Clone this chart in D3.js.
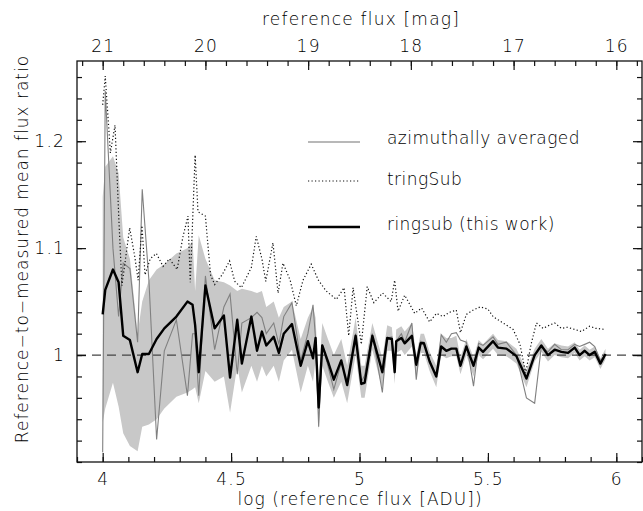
<!DOCTYPE html>
<html>
<head>
<meta charset="utf-8">
<script src="https://cdn.jsdelivr.net/npm/d3@7"></script>
<style>
  html, body { margin: 0; padding: 0; background: #fff; }
  svg { display: block; }
  text { font-family: "DejaVu Sans", sans-serif; font-weight: 200; font-size: 17px; fill: #000; letter-spacing: 1.2px; }
</style>
</head>
<body>
<svg id="chart" width="643" height="511"></svg>
<script>
// ---------------- data ----------------
const logFlux = [
  4.000, 4.010, 4.040, 4.062, 4.080, 4.106, 4.136, 4.154, 4.180, 4.210,
  4.240, 4.287, 4.330, 4.350, 4.360, 4.374, 4.400, 4.436, 4.472, 4.496,
  4.524, 4.542, 4.579, 4.601, 4.620, 4.637, 4.666, 4.686, 4.705, 4.737,
  4.771, 4.799, 4.819, 4.829, 4.841, 4.855, 4.877, 4.900, 4.929, 4.952,
  4.985, 5.007, 5.020, 5.050, 5.089, 5.108, 5.126, 5.137, 5.143, 5.163,
  5.176, 5.204, 5.221, 5.238, 5.251, 5.273, 5.299, 5.318, 5.338, 5.358,
  5.377, 5.393, 5.416, 5.444, 5.464, 5.481, 5.520, 5.539, 5.572, 5.611,
  5.650, 5.682, 5.708, 5.734, 5.760, 5.786, 5.812, 5.838, 5.857, 5.877,
  5.896, 5.916, 5.938, 5.958
];
const ringsub = [
  1.038, 1.061, 1.080, 1.068, 1.018, 1.014, 0.984, 1.001, 1.001, 1.015,
  1.025, 1.036, 1.050, 1.047, 1.028, 0.984, 1.065, 1.025, 1.037, 0.979,
  1.033, 0.992, 1.036, 1.004, 1.022, 1.009, 1.017, 1.002, 1.020, 1.029,
  0.990, 1.013, 0.997, 1.016, 0.951, 1.009, 0.994, 0.977, 0.995, 0.972,
  1.018, 0.973, 0.974, 1.018, 0.984, 1.016, 1.015, 0.984, 1.013, 1.016,
  1.011, 1.018, 0.991, 1.011, 1.011, 0.994, 0.980, 1.008, 1.004, 1.006,
  1.006, 0.990, 1.008, 0.990, 1.007, 1.003, 1.013, 1.007, 1.006, 0.999,
  0.978, 1.000, 1.009, 1.000, 1.005, 1.003, 1.002, 1.007, 1.000, 1.004,
  1.000, 1.003, 0.992, 1.001
];
const azimuthal = [
  0.909, 1.247, 1.100, 1.036, 1.086, 1.081, 1.012, 1.155, 1.070, 0.921,
  1.004, 1.033, 0.962, 1.020, 1.020, 0.962, 1.074, 1.005, 1.045, 1.057,
  0.982, 1.030, 1.035, 1.040, 1.035, 1.020, 1.030, 1.010, 1.036, 1.049,
  0.995, 1.020, 1.047, 1.015, 0.933, 1.010, 0.990, 0.968, 0.993, 0.975,
  1.020, 0.975, 0.981, 1.020, 0.965, 1.016, 1.017, 0.985, 1.013, 1.020,
  1.012, 1.030, 0.977, 1.013, 1.012, 0.995, 0.980, 1.019, 1.012, 1.020,
  1.021, 1.014, 1.012, 0.971, 1.011, 1.009, 1.017, 1.010, 1.012, 1.000,
  0.960, 0.955, 1.008, 1.003, 1.010, 1.005, 1.005, 1.010, 1.008, 1.010,
  1.012, 1.008, 0.995, 1.000
];
const bandHigh = [
  1.148, 1.176, 1.186, 1.170, 1.110, 1.090, 1.020, 1.050, 1.070, 1.080,
  1.085, 1.095, 1.100, 1.107, 1.060, 1.112, 1.090, 1.070, 1.068, 1.065,
  1.060, 1.062, 1.060, 1.058, 1.060, 1.045, 1.050, 1.035, 1.045, 1.050,
  1.015, 1.035, 1.045, 1.035, 0.975, 1.030, 1.015, 1.000, 1.015, 0.990,
  1.035, 0.990, 0.990, 1.030, 0.997, 1.028, 1.026, 0.995, 1.024, 1.027,
  1.022, 1.030, 1.000, 1.020, 1.020, 1.003, 0.990, 1.020, 1.016, 1.016,
  1.018, 0.998, 1.015, 0.998, 1.014, 1.010, 1.020, 1.014, 1.013, 1.006,
  0.986, 1.006, 1.015, 1.006, 1.011, 1.009, 1.008, 1.012, 1.005, 1.009,
  1.005, 1.008, 0.997, 1.006
];
const bandLow = [
  0.937, 0.950, 0.974, 0.952, 0.927, 0.915, 0.910, 0.933, 0.935, 0.940,
  0.950, 0.961, 0.965, 0.968, 0.970, 0.955, 0.985, 0.975, 0.980, 0.946,
  0.990, 0.965, 0.990, 0.975, 0.990, 0.980, 0.990, 0.975, 0.995, 1.005,
  0.965, 0.990, 0.975, 0.995, 0.930, 0.990, 0.975, 0.960, 0.975, 0.955,
  1.000, 0.960, 0.960, 1.005, 0.968, 1.004, 1.004, 0.973, 1.002, 1.005,
  1.000, 1.008, 0.980, 1.002, 1.002, 0.985, 0.970, 1.000, 0.997, 0.999,
  0.999, 0.982, 1.000, 0.980, 1.000, 0.996, 1.006, 1.000, 0.999, 0.992,
  0.970, 0.994, 1.003, 0.994, 1.000, 0.998, 0.997, 1.002, 0.995, 0.999,
  0.995, 0.998, 0.987, 0.996
];
const tringLogFlux = [
  4.000, 4.010, 4.030, 4.048, 4.063, 4.075, 4.090, 4.105, 4.125, 4.138,
  4.153, 4.165, 4.185, 4.209, 4.235, 4.260, 4.290, 4.312, 4.332, 4.341,
  4.360, 4.371, 4.400, 4.420, 4.436, 4.465, 4.494, 4.514, 4.540, 4.579,
  4.598, 4.620, 4.635, 4.663, 4.683, 4.702, 4.730, 4.754, 4.780, 4.812,
  4.840, 4.870, 4.910, 4.940, 4.958, 4.975, 5.007, 5.030, 5.056, 5.090,
  5.123, 5.137, 5.150, 5.176, 5.215, 5.242, 5.273, 5.300, 5.325, 5.350,
  5.377, 5.393, 5.416, 5.442, 5.470, 5.500, 5.520, 5.559, 5.598, 5.625,
  5.647, 5.668, 5.689, 5.715, 5.740, 5.760, 5.786, 5.810, 5.838, 5.864,
  5.896, 5.920, 5.955
];
const tringSub = [
  1.234, 1.261, 1.189, 1.215, 1.127, 1.065, 1.092, 1.119, 1.092, 1.070,
  1.121, 1.075, 1.090, 1.095, 1.083, 1.090, 1.080, 1.110, 1.130, 1.068,
  1.187, 1.134, 1.130, 1.075, 1.066, 1.075, 1.088, 1.069, 1.063, 1.082,
  1.111, 1.090, 1.069, 1.105, 1.058, 1.086, 1.070, 1.046, 1.070, 1.085,
  1.070, 1.060, 1.052, 1.063, 1.018, 1.063, 1.010, 1.064, 1.049, 1.058,
  1.050, 1.070, 1.041, 1.056, 1.039, 1.044, 1.031, 1.039, 1.036, 1.040,
  1.042, 1.021, 1.038, 1.042, 1.045, 1.043, 1.036, 1.030, 1.024, 1.010,
  0.983, 1.010, 1.030, 1.025, 1.028, 1.030, 1.025, 1.026, 1.024, 1.022,
  1.027, 1.025, 1.024
];
const xTickLabels = [4, 4.5, 5, 5.5, 6];
const magTickLabels = [21, 20, 19, 18, 17, 16];
const yTickLabels = [1, 1.1, 1.2];
const legendLabels = ["azimuthally averaged", "tringSub", "ringsub (this work)"];
const magZeroPoint = 31;

// ---------------- layout ----------------
const L = 77, R = 642, T = 61, B = 462;
const svg = d3.select("#chart");
svg.append("rect").attr("width", 643).attr("height", 511).attr("fill", "#fff");

const x = d3.scaleLinear().domain([3.9, 6.1]).range([L, R]);
const y = d3.scaleLinear().domain([0.9, 1.275]).range([B, T]);
const mag = d3.scaleLinear()
  .domain([magZeroPoint - 2.5 * 3.9, magZeroPoint - 2.5 * 6.1]).range([L, R]);

svg.append("clipPath").attr("id", "clip")
  .append("rect").attr("x", L).attr("y", T).attr("width", R - L).attr("height", B - T);

const plot = svg.append("g").attr("clip-path", "url(#clip)");

// band
const bandData = logFlux.map((v, i) => ({ x: v, lo: bandLow[i], hi: bandHigh[i] }));
plot.append("path").datum(bandData)
  .attr("fill", "#c8c8c8").attr("stroke", "none")
  .attr("d", d3.area().x(d => x(d.x)).y0(d => y(d.lo)).y1(d => y(d.hi)));

// reference line y = 1
plot.append("line")
  .attr("x1", L).attr("x2", R).attr("y1", y(1)).attr("y2", y(1))
  .attr("stroke", "#444").attr("stroke-width", 1.3).attr("stroke-dasharray", "9,6");

const line = d3.line().x(d => d[0]).y(d => d[1]);

// azimuthally averaged
plot.append("path")
  .datum(logFlux.map((v, i) => [x(v), y(azimuthal[i])]))
  .attr("fill", "none").attr("stroke", "#808080").attr("stroke-width", 1.1)
  .attr("d", line);

// tringSub dotted
plot.append("path")
  .datum(tringLogFlux.map((v, i) => [x(v), y(tringSub[i])]))
  .attr("fill", "none").attr("stroke", "#111").attr("stroke-width", 1.2)
  .attr("stroke-dasharray", "1.2,2.3")
  .attr("d", line);

// ringsub thick black
plot.append("path")
  .datum(logFlux.map((v, i) => [x(v), y(ringsub[i])]))
  .attr("fill", "none").attr("stroke", "#000").attr("stroke-width", 2.4)
  .attr("stroke-linejoin", "round")
  .attr("d", line);

// ---------------- axes ----------------
function styleAxis(g) {
  g.select(".domain").remove();
  g.selectAll(".tick line").attr("stroke", "#111").attr("stroke-width", 1.2);
  g.selectAll("text").attr("fill", "#000")
    .style("font-family", '"DejaVu Sans", sans-serif')
    .style("font-weight", "200").style("font-size", "17px").style("letter-spacing", "1.2px");
}
const xMinor = d3.range(39, 62).map(v => v / 10);
const magMinor = d3.range(79, 107).map(v => v / 5);
const yMinor = d3.range(45, 64).map(v => v / 50);

// bottom
svg.append("g").attr("transform", `translate(0,${B})`)
  .call(d3.axisBottom(x).tickValues(xMinor).tickSize(-5).tickFormat(""))
  .call(styleAxis);
svg.append("g").attr("transform", `translate(0,${B})`)
  .call(d3.axisBottom(x).tickValues(xTickLabels).tickSize(-9).tickPadding(11)
    .tickFormat(d3.format("")))
  .call(styleAxis);
// top
svg.append("g").attr("transform", `translate(0,${T})`)
  .call(d3.axisTop(mag).tickValues(magMinor.filter(v => v <= 21.25 && v >= 15.75)).tickSize(-5).tickFormat(""))
  .call(styleAxis);
svg.append("g").attr("transform", `translate(0,${T})`)
  .call(d3.axisTop(mag).tickValues(magTickLabels).tickSize(-9).tickPadding(9)
    .tickFormat(d3.format("")))
  .call(styleAxis);
// left
svg.append("g").attr("transform", `translate(${L},0)`)
  .call(d3.axisLeft(y).tickValues(yMinor).tickSize(-5).tickFormat(""))
  .call(styleAxis);
svg.append("g").attr("transform", `translate(${L},0)`)
  .call(d3.axisLeft(y).tickValues(yTickLabels).tickSize(-9).tickPadding(12)
    .tickFormat(d3.format("")))
  .call(styleAxis);
// right
svg.append("g").attr("transform", `translate(${R},0)`)
  .call(d3.axisRight(y).tickValues(yMinor).tickSize(-5).tickFormat(""))
  .call(styleAxis);
svg.append("g").attr("transform", `translate(${R},0)`)
  .call(d3.axisRight(y).tickValues(yTickLabels).tickSize(-9).tickFormat(""))
  .call(styleAxis);

// frame
svg.append("rect").attr("x", L).attr("y", T).attr("width", R - L).attr("height", B - T)
  .attr("fill", "none").attr("stroke", "#111").attr("stroke-width", 1.3);

// titles
svg.append("text").attr("x", 361).attr("y", 25).attr("text-anchor", "middle")
  .text("reference flux [mag]");
svg.append("text").attr("x", 360).attr("y", 505).attr("text-anchor", "middle")
  .style("letter-spacing", "1.05px")
  .text("log (reference flux [ADU])");
svg.append("text").attr("transform", "translate(28,249) rotate(-90)")
  .attr("text-anchor", "middle").style("letter-spacing", "1.0px")
  .text("Reference\u2212to\u2212measured mean flux ratio");

// legend
const legY = [142, 181, 227];
const legStyles = [
  { stroke: "#a0a0a0", width: 1.4, dash: null },
  { stroke: "#111", width: 1.2, dash: "1.2,2.3" },
  { stroke: "#000", width: 2.4, dash: null }
];
legendLabels.forEach((lab, i) => {
  svg.append("line").attr("x1", 308).attr("x2", 360).attr("y1", legY[i]).attr("y2", legY[i])
    .attr("stroke", legStyles[i].stroke).attr("stroke-width", legStyles[i].width)
    .attr("stroke-dasharray", legStyles[i].dash);
  svg.append("text").attr("x", 387).attr("y", legY[i] + [2, 4, 3][i])
    .style("letter-spacing", "0.45px").text(lab);
});
</script>
</body>
</html>
